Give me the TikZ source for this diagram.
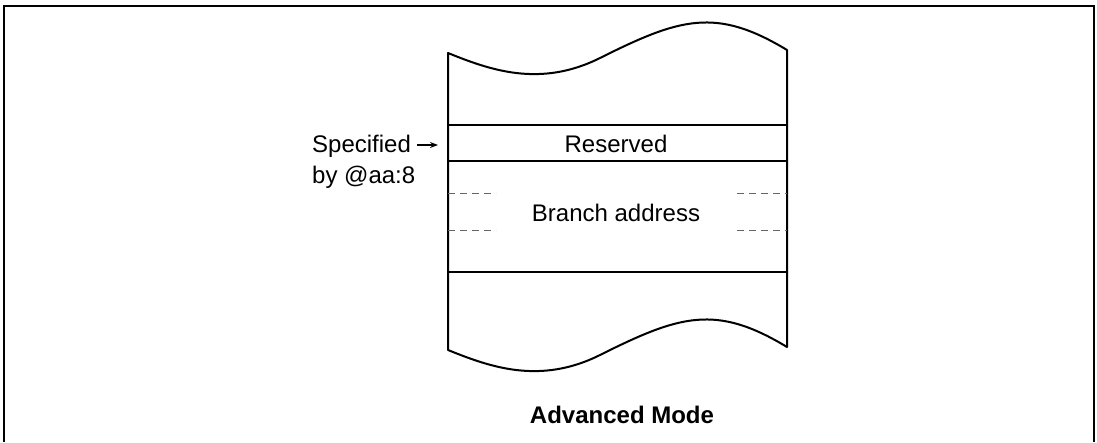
\documentclass[tikz,border=0pt]{standalone}
\usepackage{fontspec}
\setmainfont{Liberation Sans}
\usetikzlibrary{arrows.meta}
\begin{document}
\begin{tikzpicture}[x=1pt,y=-1pt,
  frameline/.style={line width=2pt},
  stackline/.style={line width=2pt, line join=round},
  divline/.style={gray!80!black, line width=1pt, dash pattern=on 7pt off 5pt},
  lbl/.style={font=\fontsize{24}{28}\selectfont, inner sep=0pt, anchor=base},
  arr/.style={line width=1.2pt, -{Stealth[length=8pt,width=6pt]}}]
\useasboundingbox (0,0) rectangle (1097,442);
% outer frame (open at the bottom)
\draw[frameline] (4,442) -- (4,6) -- (1094,6) -- (1094,442);
% memory stack
\draw[stackline] (448,53)
  .. controls (490,70) and (540,88) .. (600,58)
  .. controls (680,18) and (716,7) .. (787,50)
  -- (787,347)
  .. controls (716,304) and (680,315) .. (600,355)
  .. controls (540,385) and (490,367) .. (448,350) -- cycle;
\draw[stackline] (448,125) -- (787,125);
\draw[stackline] (448,161) -- (787,161);
\draw[stackline] (448,272) -- (787,272);
\draw[divline] (448,193) -- (496,193);
\draw[divline] (448,230) -- (496,230);
\draw[divline] (737,193) -- (787,193);
\draw[divline] (737,230) -- (787,230);
% texts
\node[lbl] (res) at (616,152) {Reserved};
\node[lbl] (br) at (616,221) {Branch address};
\node[lbl, anchor=base west] (spec1) at (312,152) {Specified};
\node[lbl, anchor=base west] (spec2) at (312,183) {by @aa:8};
\coordinate (tgt) at (438,145);
\draw[arr] ([xshift=6pt]spec1.east |- tgt) -- (tgt);
\node[lbl, font=\fontsize{24}{28}\selectfont\bfseries] (title) at (622,423) {Advanced Mode};
\end{tikzpicture}
\end{document}
